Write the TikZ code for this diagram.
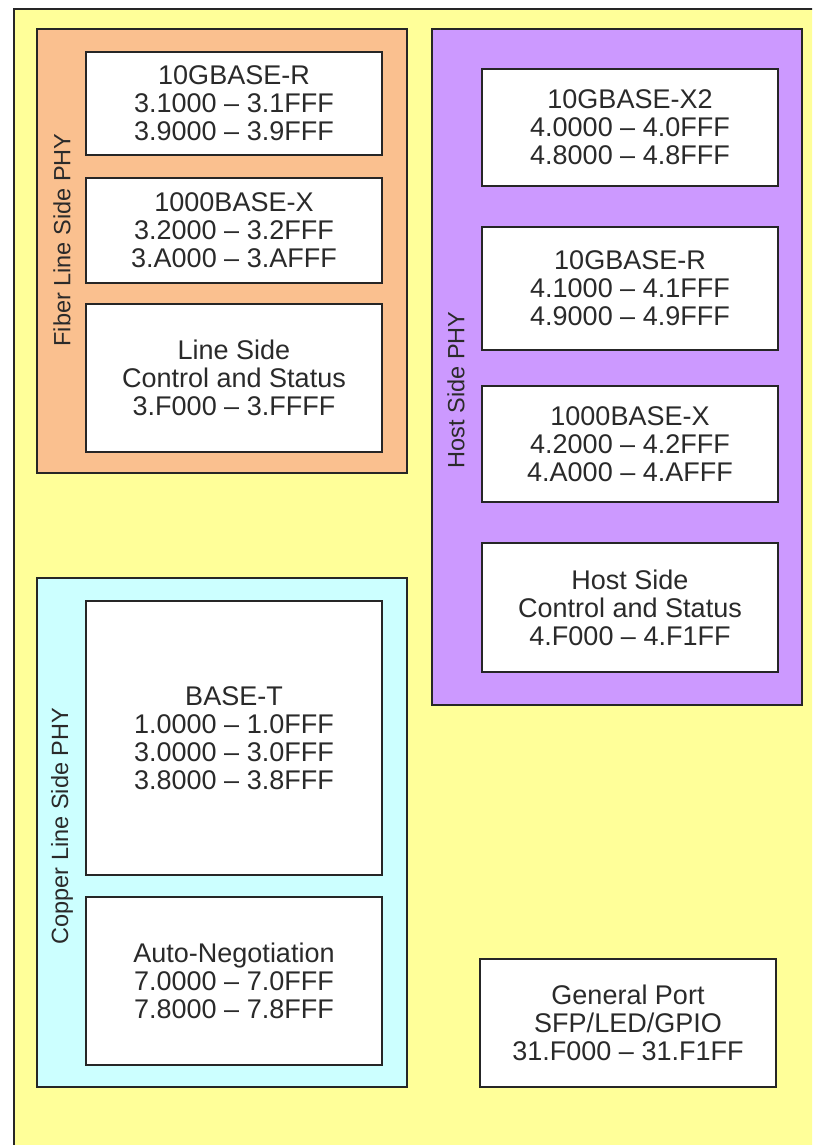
\documentclass[tikz,border=0pt]{standalone}
\usepackage{fontspec}
\setmainfont{Liberation Sans}
\definecolor{boardyellow}{HTML}{FFFF99}
\definecolor{fiberorange}{HTML}{FAC08F}
\definecolor{hostpurple}{HTML}{CC99FF}
\definecolor{coppercyan}{HTML}{CCFFFF}
\definecolor{edgegray}{HTML}{262626}
\definecolor{textgray}{HTML}{2A2A2A}
\tikzset{
  regbox/.style={draw=edgegray, line width=1.6pt, fill=white, inner sep=0pt,
    minimum width=296pt, align=center, text=textgray,
    font=\fontsize{27}{28}\selectfont},
  groupbox/.style={draw=edgegray, line width=1.6pt, inner sep=0pt, minimum width=370pt},
  grouplabel/.style={rotate=90, text=textgray, inner sep=0pt,
    font=\fontsize{23.5}{25}\selectfont}
}
\begin{document}
\begin{tikzpicture}[x=1pt,y=-1pt]
\useasboundingbox (0,0) rectangle (812,1145);
\fill[white] (0,0) rectangle (812,1145);
\begin{scope}
\clip (0,0) rectangle (812,1145);
\node[draw=edgegray, line width=1.6pt, fill=boardyellow, anchor=north west,
  minimum width=900pt, minimum height=1250pt, inner sep=0pt] (board) at (13,8) {};
\end{scope}

% Fiber line side
\node[groupbox, fill=fiberorange, minimum height=444pt] (fiber) at (222,251) {};
\node[grouplabel] (fiberlbl) at (62,240) {Fiber Line Side PHY};
\node[regbox, minimum height=103pt] (f1) at (234,103.5) {10GBASE-R\\3.1000 – 3.1FFF\\3.9000 – 3.9FFF};
\node[regbox, minimum height=105pt] (f2) at (234,230.5) {1000BASE-X\\3.2000 – 3.2FFF\\3.A000 – 3.AFFF};
\node[regbox, minimum height=148pt] (f3) at (234,378) {Line Side\\Control and Status\\3.F000 – 3.FFFF};

% Host side
\node[groupbox, fill=hostpurple, minimum height=676pt] (host) at (617,367) {};
\node[grouplabel] (hostlbl) at (456,390) {Host Side PHY};
\node[regbox, minimum height=117pt] (h1) at (630,127.5) {10GBASE-X2\\4.0000 – 4.0FFF\\4.8000 – 4.8FFF};
\node[regbox, minimum height=123pt] (h2) at (630,288.5) {10GBASE-R\\4.1000 – 4.1FFF\\4.9000 – 4.9FFF};
\node[regbox, minimum height=116pt] (h3) at (630,444) {1000BASE-X\\4.2000 – 4.2FFF\\4.A000 – 4.AFFF};
\node[regbox, minimum height=129pt] (h4) at (630,607.5) {Host Side\\Control and Status\\4.F000 – 4.F1FF};

% Copper line side
\node[groupbox, fill=coppercyan, minimum height=509pt] (copper) at (222,832.5) {};
\node[grouplabel] (copperlbl) at (62,826) {Copper Line Side PHY};
\node[regbox, minimum height=274pt] (c1) at (234,738) {BASE-T\\1.0000 – 1.0FFF\\3.0000 – 3.0FFF\\3.8000 – 3.8FFF};
\node[regbox, minimum height=168pt] (c2) at (234,981) {Auto-Negotiation\\7.0000 – 7.0FFF\\7.8000 – 7.8FFF};

% General port
\node[regbox, minimum height=128pt] (gp) at (628,1023) {General Port\\SFP/LED/GPIO\\31.F000 – 31.F1FF};
\end{tikzpicture}
\end{document}
